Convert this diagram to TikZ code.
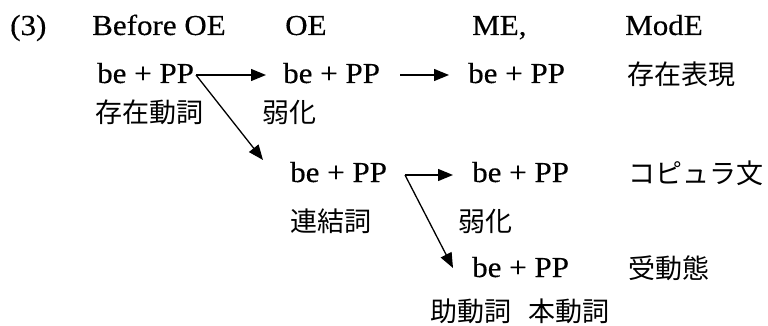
\documentclass[tikz,border=0pt]{standalone}
\usepackage{fontspec}
\setmainfont[FakeStretch=1.07,FakeBold=0.35]{Liberation Serif}
\newfontfamily\jfont{Noto Sans CJK JP}
\usetikzlibrary{arrows.meta}
\begin{document}
\begin{tikzpicture}[x=1pt,y=-1pt,
  lat/.style={anchor=base west,inner sep=0pt,font=\fontsize{29}{32}\selectfont},
  jp/.style={anchor=west,inner sep=0pt,font=\jfont\fontsize{27}{30}\selectfont},
  arr/.style={line width=1.3pt,-{Triangle[length=15pt,width=12pt]}}]
\useasboundingbox (0,0) rectangle (768,326);
% header
\node[lat] (n3) at (10,35) {(3)};
\node[lat] (h1) at (92,35) {Before OE};
\node[lat] (h2) at (285,35) {OE};
\node[lat] (h3) at (472,35) {ME,};
\node[lat] (h4) at (625,35) {ModE};
% row 2
\node[lat] (a1) at (97,83) {be + PP};
\node[lat] (a2) at (283,83) {be + PP};
\node[lat] (a3) at (468,83) {be + PP};
\node[jp] (j1) at (627,74) {存在表現};
% row 3
\node[jp] (j2) at (95,112) {存在動詞};
\node[jp] (j3) at (262,112) {弱化};
% row 4
\node[lat] (b1) at (290,182) {be + PP};
\node[lat] (b2) at (472,182) {be + PP};
\node[jp] (j4) at (628,173) {コピュラ文};
% row 5
\node[jp] (j5) at (290,221) {連結詞};
\node[jp] (j6) at (458,221) {弱化};
% row 6
\node[lat] (c1) at (472,277) {be + PP};
\node[jp] (j7) at (628,268) {受動態};
% row 7
\node[jp] (j8) at (430,311) {助動詞};
\node[jp] (j9) at (528,311) {本動詞};
% connectors
\coordinate (s1) at (196,75);
\coordinate (s2) at (400,75);
\coordinate (s3) at (405,175);
\draw[arr] (s1) -- (266,75);
\draw[arr] (s1) -- (263,160);
\draw[arr] (s2) -- (449,75);
\draw[arr] (s3) -- (453,175);
\draw[arr] (s3) -- (453,268);
\end{tikzpicture}
\end{document}
